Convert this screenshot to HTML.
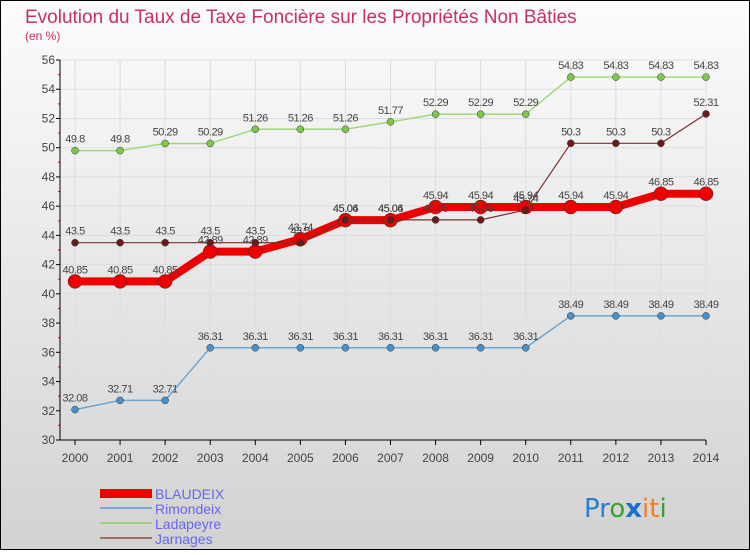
<!DOCTYPE html>
<html><head><meta charset="utf-8"><style>
body{margin:0;width:750px;height:550px;overflow:hidden;font-family:"Liberation Sans",sans-serif}
</style></head><body>
<svg id="c" width="750" height="550" xmlns="http://www.w3.org/2000/svg">
<defs><linearGradient id="bg" x1="0" y1="0" x2="0" y2="1"><stop offset="0" stop-color="#fcfcfc"/><stop offset="1" stop-color="#d2d2d2"/></linearGradient></defs>
<rect x="0.5" y="0.5" width="749" height="549" fill="url(#bg)" stroke="#000"/>
<text x="25" y="23" font-size="19" fill="#c8305f">Evolution du Taux de Taxe Foncière sur les Propriétés Non Bâties</text>
<text x="25" y="40" font-size="12" fill="#c8305f">(en %)</text>
<g id="axes"></g><g id="series"></g>
<g>
<rect x="100" y="489" width="52" height="9" fill="#e00"/>
<text x="155" y="499" font-size="14" fill="#6666ee">BLAUDEIX</text>
<line x1="100" y1="508" x2="152" y2="508" stroke="#7aabd0" stroke-width="2"/>
<text x="155" y="514" font-size="14" fill="#6666ee">Rimondeix</text>
<line x1="100" y1="523" x2="152" y2="523" stroke="#9fd07a" stroke-width="2"/>
<text x="155" y="529" font-size="14" fill="#6666ee">Ladapeyre</text>
<line x1="100" y1="538" x2="152" y2="538" stroke="#a07070" stroke-width="2"/>
<text x="155" y="544" font-size="14" fill="#6666ee">Jarnages</text>
</g>
<g font-size="26" font-family="'DejaVu Sans',sans-serif">
<text x="584" y="517"><tspan fill="#2a7fd0">Pr</tspan><tspan fill="#3aa030">o</tspan><tspan fill="#1a70d0" font-weight="bold">x</tspan><tspan fill="#f08020">it</tspan><tspan fill="#3aa030">i</tspan></text>
</g>
</svg>
<script>
const years=[2000,2001,2002,2003,2004,2005,2006,2007,2008,2009,2010,2011,2012,2013,2014];
const yTicks=[30,32,34,36,38,40,42,44,46,48,50,52,54,56];
const blaudeix=[40.85,40.85,40.85,42.89,42.89,43.74,45.04,45.04,45.94,45.94,45.94,45.94,45.94,46.85,46.85];
const rimondeix=[32.08,32.71,32.71,36.31,36.31,36.31,36.31,36.31,36.31,36.31,36.31,38.49,38.49,38.49,38.49];
const ladapeyre=[49.8,49.8,50.29,50.29,51.26,51.26,51.26,51.77,52.29,52.29,52.29,54.83,54.83,54.83,54.83];
const jarnages=[43.5,43.5,43.5,43.5,43.5,43.5,45.06,45.06,45.06,45.06,45.74,50.3,50.3,50.3,52.31];
const NS="http://www.w3.org/2000/svg";
const X=i=>75+i*(706-75)/(years.length-1);
const Y=v=>440-(v-30)*(380/26);
function mk(t,a,p){const e=document.createElementNS(NS,t);for(const k in a)e.setAttribute(k,a[k]);p.appendChild(e);return e;}
const ax=document.getElementById('axes');
yTicks.forEach(v=>{
 const g=mk('line',{x1:60,x2:706,y1:Y(v),y2:Y(v),stroke:'#ddd','stroke-width':1},ax);
 
 
 mk('line',{x1:56,x2:60,y1:Y(v),y2:Y(v),stroke:'#000'},ax);
 if(v<56){const r=mk('line',{x1:58,x2:60,y1:Y(v+1),y2:Y(v+1),stroke:'#e00'},ax);}
 const t=mk('text',{x:55,y:Y(v)+4,'font-size':12,fill:'#444','text-anchor':'end'},ax);t.textContent=v;
 
 
});
years.forEach((yr,i)=>{
 const g=mk('line',{x1:X(i),x2:X(i),y1:60,y2:440,stroke:'#ddd'},ax);
 
 
 mk('line',{x1:X(i),x2:X(i),y1:440,y2:445,stroke:'#000'},ax);
 const t=mk('text',{x:X(i),y:462,'font-size':12,fill:'#444','text-anchor':'middle'},ax);t.textContent=yr;
 
 
});
const yl=mk('line',{x1:60,x2:60,y1:60,y2:440,stroke:'#000'},ax);


const xl=mk('line',{x1:60,x2:706,y1:440,y2:440,stroke:'#000'},ax);


const sg=document.getElementById('series');
function series(name,data,color,w,r,dot){
 const g=mk('g',{},sg);
 
 
 const l=mk('polyline',{points:data.map((v,i)=>X(i)+','+Y(v)).join(' '),fill:'none',stroke:color,'stroke-width':w,'stroke-linejoin':'round'},g);
 
 
 data.forEach((v,i)=>{
  const c=mk('circle',{cx:X(i),cy:Y(v),r:r,fill:dot,stroke:'#333','stroke-width':0.5},g);
  
  
  const t=mk('text',{x:X(i),y:Y(v)-8,'font-size':11,fill:'#444','text-anchor':'middle','letter-spacing':'-0.5'},g);
  t.textContent=String(v).replace(/^(\d+)\.0+$/,'$1');
  
  
 });
}
series('rimondeix',rimondeix,'#6ea6d2',1.5,3.5,'#4a90cc');
series('ladapeyre',ladapeyre,'#9fd87a',1.5,3.5,'#7cc84a');
series('blaudeix',blaudeix,'#ee0000',8,7,'#ee0000');
series('jarnages',jarnages,'#7a3030',1.2,3.5,'#6b1a1a');
</script>
</body></html>
